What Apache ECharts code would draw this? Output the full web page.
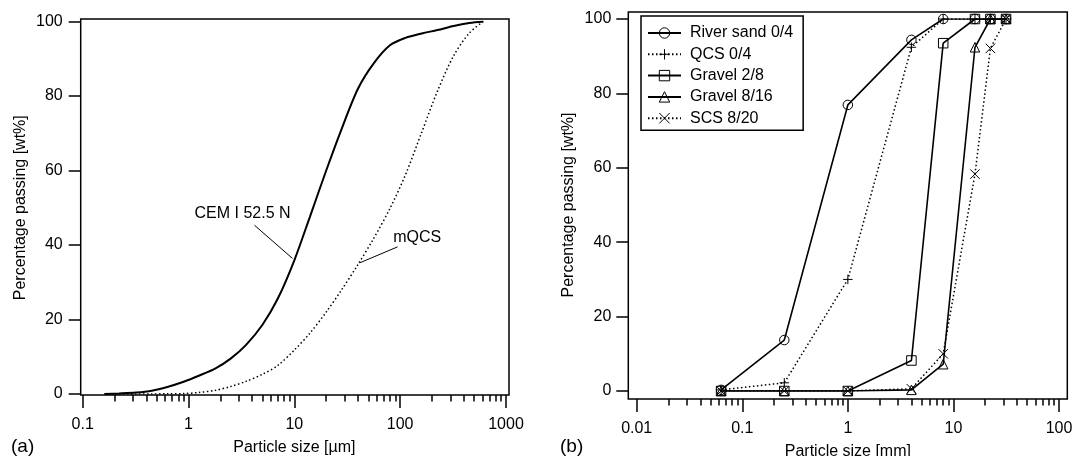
<!DOCTYPE html>
<html>
<head>
<meta charset="utf-8">
<script src="https://cdn.jsdelivr.net/npm/echarts@6/dist/echarts.min.js"></script>
<style>html,body{margin:0;padding:0;background:#fff;}</style>
</head>
<body>
<div id="main" style="width:1075px;height:456px;"></div>
<script type="text/javascript">
    // (a) binders, particle size in µm (read at roughly even steps on the log axis)
    var binderSize = [0.16, 0.22, 0.32, 0.45, 0.63, 0.9, 1.25, 1.8, 2.5, 3.5, 5, 7, 10, 14, 20, 28, 40, 56, 80, 112, 160, 225, 320, 450, 610];
    var cemPassing = [0, 0.15, 0.4, 0.9, 1.9, 3.3, 4.9, 6.9, 9.5, 13.2, 18.6, 25.7, 35.9, 47.5, 60, 71.2, 82, 88.7, 93.6, 95.6, 96.8, 97.7, 98.8, 99.6, 100];
    var mqcsPassing = [null, 0, 0, 0.02, 0.05, 0.12, 0.4, 1, 2, 3.4, 5.3, 7.7, 11.8, 16.3, 22, 28, 34.8, 41.7, 49.8, 58.8, 70.3, 81.3, 90.8, 96.9, 100];

    // (b) aggregates, sieve size in mm
    var sieveSize = [0.063, 0.25, 1, 4, 8, 16, 22.4, 31.5];
    var riverSand = [0.3, 13.7, 76.9, 94.4, 100, 100, 100, 100];
    var qcs = [0.3, 2.2, 30, 92.4, 100, 100, 100, 100];
    var gravel28 = [0, 0, 0, 8.2, 93.5, 100, 100, 100];
    var gravel816 = [0, 0, 0, 0.3, 7.2, 92.4, 100, 100];
    var scs820 = [0, 0, 0, 0.6, 10, 58.3, 92.1, 100];
    var aggNames = ['River sand 0/4', 'QCS 0/4', 'Gravel 2/8', 'Gravel 8/16', 'SCS 8/20'];

    var FONT = 'Liberation Sans, Arial, Helvetica, sans-serif';
    var PLUS = 'path://M0,5L10,5M5,0L5,10';
    var CROSS = 'path://M0,0L10,10M10,0L0,10';

    function pairs(xs, ys) {
        var out = [];
        xs.forEach(function (x, i) { if (ys[i] != null) out.push([x, ys[i]]); });
        return out;
    }

    function logAxis(grid, min, max, offset, name) {
        return {
            type: 'log', logBase: 10, gridIndex: grid, min: min, max: max, offset: offset,
            position: 'bottom',
            name: name, nameLocation: 'middle', nameGap: 45,
            nameTextStyle: {fontSize: 16, color: '#000', fontFamily: FONT},
            axisLine: {show: false, onZero: false},
            axisTick: {show: true, inside: false, length: 13, lineStyle: {color: '#000', width: 1.5}},
            minorTick: {show: true, splitNumber: 9, length: 6.5, lineStyle: {color: '#000', width: 1.5}},
            splitLine: {show: false},
            minorSplitLine: {show: false},
            axisLabel: {
                fontSize: 16, color: '#000', fontFamily: FONT, margin: 22,
                formatter: function (v) { return String(+(+v).toPrecision(6)); }
            }
        };
    }

    function pctAxis(grid, offset, margin) {
        return {
            type: 'value', gridIndex: grid, min: 0, max: 100, interval: 20, offset: offset,
            position: 'left',
            name: 'Percentage passing [wt%]', nameLocation: 'middle', nameGap: 52,
            nameTextStyle: {fontSize: 16, color: '#000', fontFamily: FONT},
            axisLine: {show: false, onZero: false},
            axisTick: {show: true, inside: false, length: 12, lineStyle: {color: '#000', width: 1.5}},
            splitLine: {show: false},
            axisLabel: {fontSize: 16, color: '#000', fontFamily: FONT, margin: margin}
        };
    }

    function aggSeries(name, values, symbol, dotted) {
        return {
            name: name, type: 'line', xAxisIndex: 1, yAxisIndex: 1,
            data: pairs(sieveSize, values),
            symbol: symbol, symbolSize: 9.5, showAllSymbol: true,
            lineStyle: {color: '#000', width: dotted ? 1.5 : 1.6, type: dotted ? [1.5, 2.5] : 'solid'},
            itemStyle: {color: 'rgba(0,0,0,0)', borderColor: '#000', borderWidth: 1},
            emphasis: {disabled: true}
        };
    }

    var myChart = echarts.init(document.getElementById('main'));

    var option = {
        animation: false,
        backgroundColor: '#fff',
        grid: [
            {left: 82.7, top: 21.5, width: 423.3, height: 372.5, containLabel: false, outerBoundsMode: 'none'},
            {left: 636.7, top: 19, width: 422.3, height: 372, containLabel: false, outerBoundsMode: 'none'}
        ],
        xAxis: [
            logAxis(0, 0.1, 1000, 1, 'Particle size [µm]'),
            logAxis(1, 0.01, 100, 8, 'Particle size [mm]')
        ],
        yAxis: [
            pctAxis(0, 2, 18),
            pctAxis(1, 8.4, 17)
        ],
        legend: {
            data: aggNames,
            orient: 'vertical', left: 641, top: 16,
            itemWidth: 33, itemHeight: 13, itemGap: 5.3,
            padding: [9, 10, 4, 6],
            borderColor: '#000', borderWidth: 1.5, backgroundColor: '#fff',
            selectedMode: false,
            itemStyle: {borderWidth: 1},
            textStyle: {fontSize: 16, color: '#000', fontFamily: FONT, padding: [0, 0, 0, 4]}
        },
        graphic: [
            // plot frames
            {type: 'rect', shape: {x: 80.7, y: 19, width: 428.3, height: 376}, style: {fill: null, stroke: '#000', lineWidth: 1.5}, z: 10},
            {type: 'rect', shape: {x: 628.3, y: 12, width: 439, height: 387}, style: {fill: null, stroke: '#000', lineWidth: 1.5}, z: 10},
            {type: 'text', left: 11, top: 437, style: {text: '(a)', fontSize: 19, fontFamily: FONT, fill: '#000'}},
            {type: 'text', left: 560, top: 437, style: {text: '(b)', fontSize: 19, fontFamily: FONT, fill: '#000'}}
        ],
        series: [
            {
                name: 'CEM I 52.5 N', type: 'line', xAxisIndex: 0, yAxisIndex: 0,
                data: pairs(binderSize, cemPassing), showSymbol: false, smooth: 0.3,
                lineStyle: {color: '#000', width: 2},
                emphasis: {disabled: true},
                markLine: {
                    silent: true, symbol: 'none', label: {show: false},
                    lineStyle: {color: '#000', width: 1, type: 'solid'},
                    data: [[{coord: [4.2, 45.3]}, {coord: [9.6, 36.4]}]]
                },
                markPoint: {
                    silent: true, symbol: 'circle', symbolSize: 1, itemStyle: {color: 'rgba(0,0,0,0)'},
                    label: {show: true, position: 'inside', formatter: 'CEM I 52.5 N', fontSize: 16, color: '#000', fontFamily: FONT},
                    data: [{coord: [3.24, 48.4]}]
                }
            },
            {
                name: 'mQCS', type: 'line', xAxisIndex: 0, yAxisIndex: 0,
                data: pairs(binderSize, mqcsPassing), showSymbol: false, smooth: 0.3,
                lineStyle: {color: '#000', width: 1.5, type: [1.5, 2.5]},
                emphasis: {disabled: true},
                markLine: {
                    silent: true, symbol: 'none', label: {show: false},
                    lineStyle: {color: '#000', width: 1, type: 'solid'},
                    data: [[{coord: [94.5, 39.5]}, {coord: [41.4, 35.2]}]]
                },
                markPoint: {
                    silent: true, symbol: 'circle', symbolSize: 1, itemStyle: {color: 'rgba(0,0,0,0)'},
                    label: {show: true, position: 'inside', formatter: 'mQCS', fontSize: 16, color: '#000', fontFamily: FONT},
                    data: [{coord: [145, 42]}]
                }
            },
            aggSeries(aggNames[0], riverSand, 'circle', false),
            aggSeries(aggNames[1], qcs, PLUS, true),
            aggSeries(aggNames[2], gravel28, 'rect', false),
            aggSeries(aggNames[3], gravel816, 'triangle', false),
            aggSeries(aggNames[4], scs820, CROSS, true)
        ]
    };
    myChart.setOption(option);
</script>
</body>
</html>
